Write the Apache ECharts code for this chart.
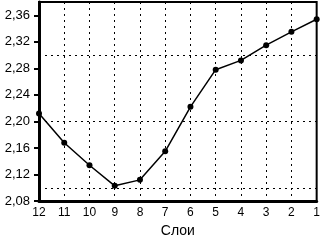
<!DOCTYPE html>
<html><head><meta charset="utf-8">
<script src="https://cdn.jsdelivr.net/npm/echarts@6/dist/echarts.min.js"></script>
<style>html,body{margin:0;padding:0;background:#fff}#c{width:323px;height:243px}</style>
</head><body><div id="c"></div>
<script>
const categories = ['12','11','10','9','8','7','6','5','4','3','2','1'];
const values = [2.212, 2.168, 2.134, 2.103, 2.112, 2.155, 2.222, 2.278, 2.292, 2.315, 2.335, 2.354];
const yTicks = [2.08, 2.12, 2.16, 2.20, 2.24, 2.28, 2.32, 2.36];
const hGrid = [2.10, 2.20, 2.30];
const xName = 'Слои';

const chart = echarts.init(document.getElementById('c'), null, {renderer: 'canvas'});
const dot = {color: '#000', width: 1, type: [2, 4]};
chart.setOption({
  animation: false,
  grid: {left: 39, right: 4, top: 2, bottom: 34, show: true, borderColor: '#000', borderWidth: 2, backgroundColor: 'transparent'},
  xAxis: {
    type: 'category', data: categories, boundaryGap: false,
    name: xName, nameLocation: 'middle', nameGap: 22,
    nameTextStyle: {fontFamily: 'Liberation Sans', fontSize: 14, color: '#000'},
    axisLine: {show: true, lineStyle: {color: '#000', width: 3}},
    axisTick: {show: false},
    axisLabel: {fontFamily: 'Liberation Sans', fontSize: 12, color: '#000', margin: 6, interval: 0},
    splitLine: {show: true, interval: 0, lineStyle: dot}
  },
  yAxis: {
    type: 'value', min: 2.08, max: 2.38, interval: 0.04,
    axisLine: {show: true, lineStyle: {color: '#000', width: 3}},
    axisTick: {show: true, length: 5, customValues: yTicks, lineStyle: {color: '#000', width: 2}},
    axisLabel: {fontFamily: 'Liberation Sans', fontSize: 13, color: '#000', margin: 9, customValues: yTicks,
      formatter: v => v.toFixed(2).replace('.', ',')},
    splitLine: {show: false}
  },
  series: [{
    type: 'line', data: values,
    lineStyle: {color: '#000', width: 1.5},
    itemStyle: {color: '#000'},
    symbol: 'circle', symbolSize: 6, showSymbol: true,
    markLine: {
      silent: true, symbol: 'none', label: {show: false},
      lineStyle: dot,
      data: hGrid.map(v => ({yAxis: v}))
    }
  }]
});
</script></body></html>
